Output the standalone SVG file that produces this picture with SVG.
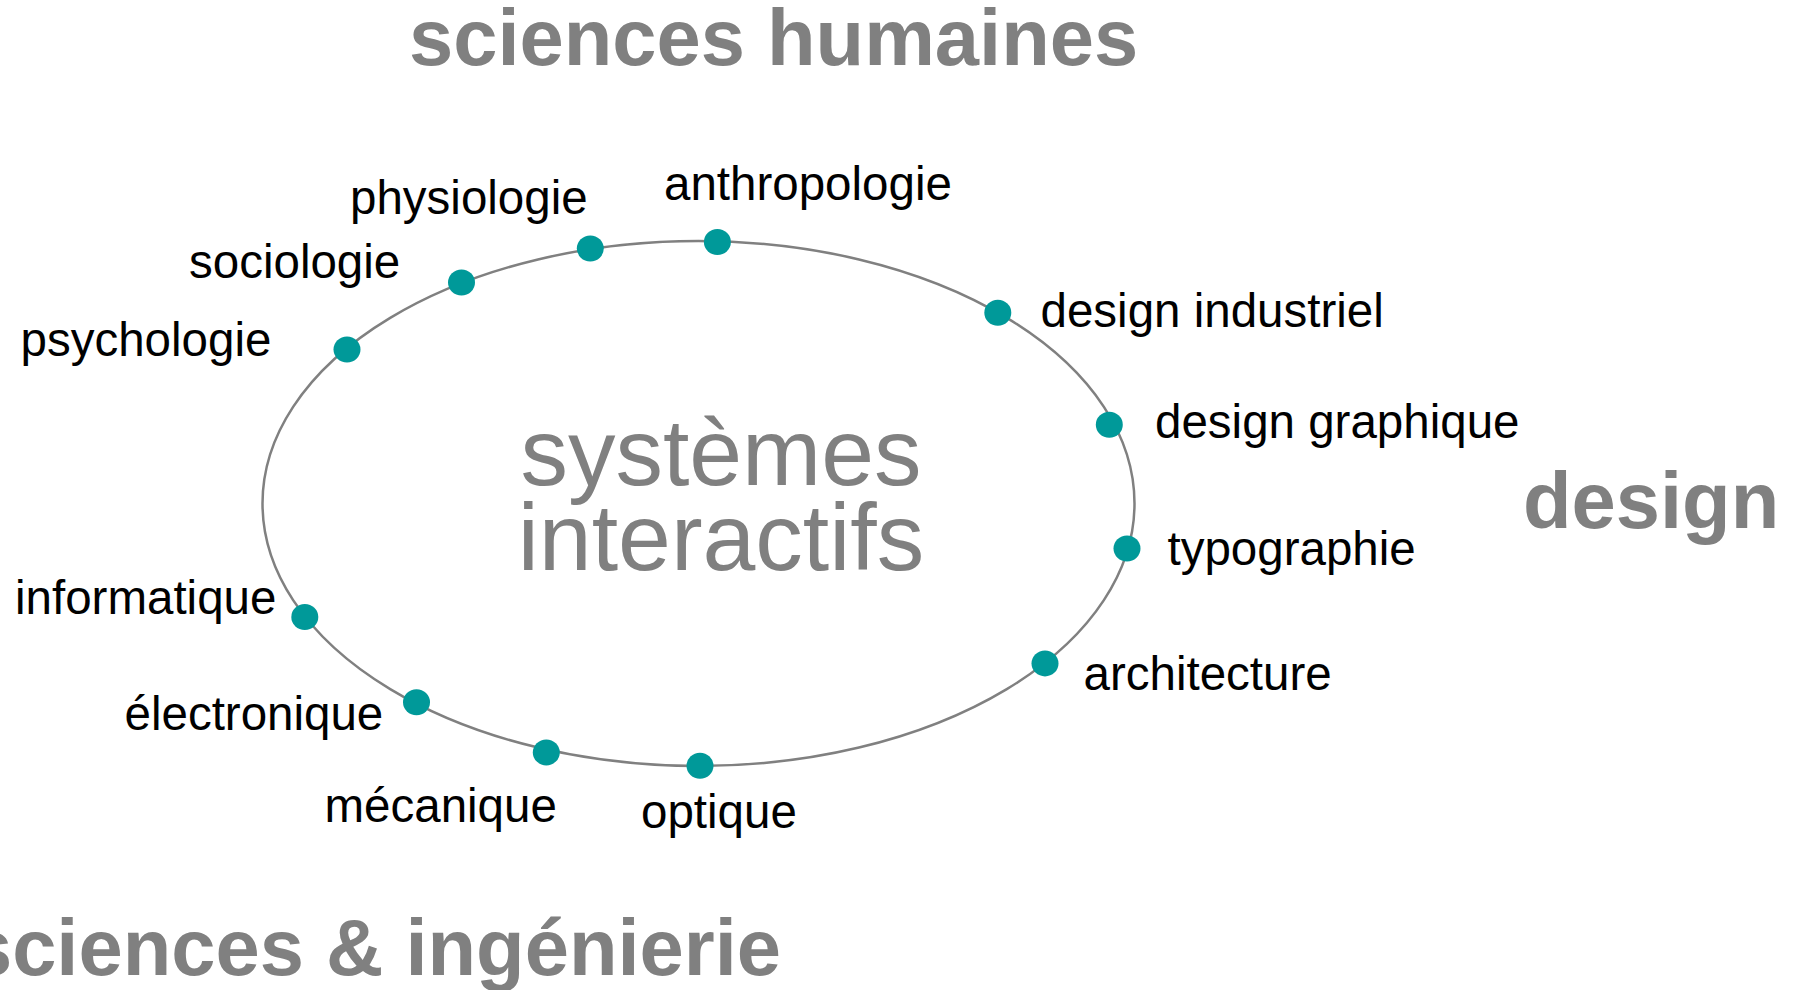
<svg xmlns="http://www.w3.org/2000/svg" width="1797" height="990" viewBox="0 0 1797 990">
<style>
.lbl{font-family:"Liberation Sans",Arial,sans-serif;font-size:47.5px;fill:#000}
.big{font-family:"Liberation Sans",Arial,sans-serif;font-size:79.5px;font-weight:bold;fill:#808080}
.mid{font-family:"Liberation Sans",Arial,sans-serif;font-size:95px;fill:#808080}
.dot{fill:#009999}
</style>
<rect width="1797" height="990" fill="#fff"/>
<g id="connectors">
<ellipse cx="698.5" cy="503.5" rx="436" ry="262.5" fill="none" stroke="#808080" stroke-width="2.5"/>
</g>
<g id="center"><text class="mid" text-anchor="middle"><tspan x="721" y="485">systèmes</tspan><tspan x="721" y="569.5">interactifs</tspan></text></g>
<g id="sciences-humaines"><text class="big" x="409" y="65">sciences humaines</text></g>
<g id="design"><text class="big" x="1523" y="528">design</text></g>
<g id="sciences-ingenierie"><text class="big" x="781" y="975" text-anchor="end">sciences &amp; ingénierie</text></g>
<g id="anthropologie"><ellipse class="dot" cx="717.4" cy="242" rx="13.5" ry="13"/><text class="lbl" x="664" y="200">anthropologie</text></g>
<g id="physiologie"><ellipse class="dot" cx="590.3" cy="248.5" rx="13.5" ry="13"/><text class="lbl" x="350" y="213.5">physiologie</text></g>
<g id="sociologie"><ellipse class="dot" cx="461.5" cy="282.5" rx="13.5" ry="13"/><text class="lbl" x="189" y="277.5">sociologie</text></g>
<g id="psychologie"><ellipse class="dot" cx="347" cy="349.5" rx="13.5" ry="13"/><text class="lbl" x="20.5" y="356">psychologie</text></g>
<g id="design-industriel"><ellipse class="dot" cx="997.8" cy="312.8" rx="13.5" ry="13"/><text class="lbl" x="1040.5" y="326.5">design industriel</text></g>
<g id="design-graphique"><ellipse class="dot" cx="1109.3" cy="424.7" rx="13.5" ry="13"/><text class="lbl" x="1155" y="437.5">design graphique</text></g>
<g id="typographie"><ellipse class="dot" cx="1127" cy="548.5" rx="13.5" ry="13"/><text class="lbl" x="1167.5" y="565">typographie</text></g>
<g id="architecture"><ellipse class="dot" cx="1045" cy="663.4" rx="13.5" ry="13"/><text class="lbl" x="1083.5" y="690">architecture</text></g>
<g id="informatique"><ellipse class="dot" cx="304.8" cy="617" rx="13.5" ry="13"/><text class="lbl" x="15" y="613.5">informatique</text></g>
<g id="electronique"><ellipse class="dot" cx="416.5" cy="702.2" rx="13.5" ry="13"/><text class="lbl" x="124.5" y="730">électronique</text></g>
<g id="mecanique"><ellipse class="dot" cx="546.3" cy="752.4" rx="13.5" ry="13"/><text class="lbl" x="324.5" y="821.5">mécanique</text></g>
<g id="optique"><ellipse class="dot" cx="700" cy="765.8" rx="13.5" ry="13"/><text class="lbl" x="641" y="827.5">optique</text></g>
</svg>
